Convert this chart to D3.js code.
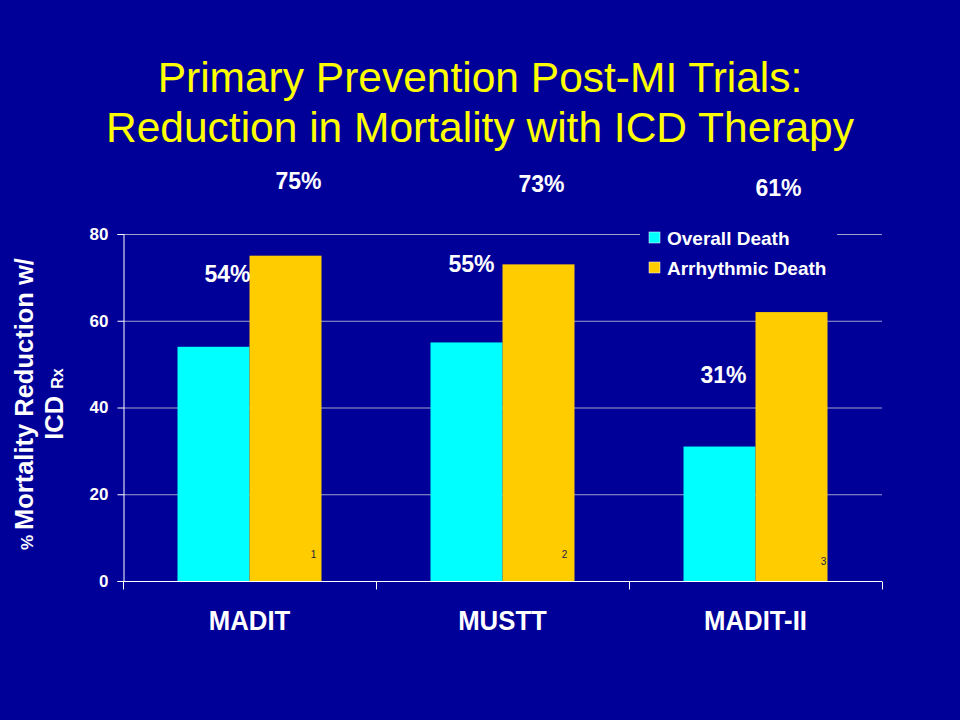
<!DOCTYPE html>
<html><head><meta charset="utf-8">
<script src="https://cdn.jsdelivr.net/npm/d3@7"></script>
<style>html,body{margin:0;padding:0;background:#000099;}svg{display:block;}</style>
</head><body>
<script>
const categories = ["MADIT", "MUSTT", "MADIT-II"];
const seriesNames = ["Overall Death", "Arrhythmic Death"];
const overallDeath = [54, 55, 31];
const arrhythmicDeath = [75, 73, 62];
const overallLabels = ["54%", "55%", "31%"];
const arrhythmicLabels = ["75%", "73%", "61%"];
const footnotes = ["1", "2", "3"];
const yTicks = [0, 20, 40, 60, 80];
const titleLines = ["Primary Prevention Post-MI Trials:", "Reduction in Mortality with ICD Therapy"];

const W = 960, H = 720;
const colors = ["#00FFFF", "#FFCC00"];
const font = "Arial, 'Liberation Sans', sans-serif";
const svg = d3.select("body").append("svg").attr("width", W).attr("height", H);
svg.append("rect").attr("width", W).attr("height", H).attr("fill", "#000099");

const plot = {left: 123, right: 882, top: 234, bottom: 581};
const y = d3.scaleLinear().domain([0, 80]).range([plot.bottom, plot.top]);
const x0 = d3.scaleBand().domain(categories).range([plot.left, plot.right]).padding(0);
const x1 = d3.scaleBand().domain(seriesNames).range([0, x0.bandwidth()]).paddingInner(0).paddingOuter(0.757);

// title
svg.append("g").selectAll("text").data(titleLines).join("text")
  .attr("x", 480).attr("y", (d, i) => 92 + i * 50)
  .attr("text-anchor", "middle").attr("fill", "#FFFF00")
  .attr("font-family", font).attr("font-size", 42.5).text(d => d);

// gridlines
svg.append("g").selectAll("line").data(yTicks.filter(t => t > 0)).join("line")
  .attr("x1", plot.left).attr("x2", plot.right)
  .attr("y1", d => y(d) + 0.5).attr("y2", d => y(d) + 0.5)
  .attr("stroke", "#A0A0CC").attr("stroke-width", 1);

// bars
const data = categories.map((c, i) => ({c, vals: [overallDeath[i], arrhythmicDeath[i]]}));
const groups = svg.append("g").selectAll("g").data(data).join("g")
  .attr("transform", d => `translate(${x0(d.c)},0)`);
groups.selectAll("rect").data(d => d.vals.map((v, j) => ({s: seriesNames[j], v, j}))).join("rect")
  .attr("x", d => x1(d.s)).attr("width", x1.bandwidth())
  .attr("y", d => y(d.v)).attr("height", d => y(0) - y(d.v))
  .attr("fill", d => colors[d.j]);

// axes
const yAxis = d3.axisLeft(y).tickValues(yTicks).tickSize(6).tickPadding(9);
const gy = svg.append("g").attr("transform", `translate(${plot.left + 0.5},0)`).call(yAxis);
gy.select(".domain").attr("stroke", "#fff");
gy.selectAll(".tick line").attr("stroke", "#fff");
gy.selectAll(".tick text").attr("fill", "#fff").attr("font-family", font)
  .attr("font-weight", "bold").attr("font-size", 17);

const gx = svg.append("g").attr("transform", `translate(0,${plot.bottom + 0.5})`);
gx.append("line").attr("x1", plot.left).attr("x2", plot.right).attr("stroke", "#fff");
const bounds = [...categories.map(c => x0(c)), plot.right];
gx.selectAll("line.tk").data(bounds).join("line").attr("class", "tk")
  .attr("x1", d => d + 0.5).attr("x2", d => d + 0.5).attr("y1", 0).attr("y2", 8).attr("stroke", "#fff");
gx.selectAll("text").data(categories).join("text")
  .attr("transform", d => `translate(${x0(d) + x0.bandwidth() / 2},48) scale(0.92,1)`)
  .attr("text-anchor", "middle").attr("fill", "#fff").attr("font-family", font)
  .attr("font-weight", "bold").attr("font-size", 28).text(d => d);

// y title
const yt = svg.append("g").attr("transform", "translate(0,404) rotate(-90)");
const t1 = yt.append("text").attr("x", 0).attr("y", 33).attr("text-anchor", "middle")
  .attr("fill", "#fff").attr("font-family", font).attr("font-weight", "bold").attr("font-size", 25.5);
t1.append("tspan").attr("font-size", 17).text("% ");
t1.append("tspan").text("Mortality Reduction w/");
const t2 = yt.append("text").attr("x", 0).attr("y", 63).attr("text-anchor", "middle")
  .attr("fill", "#fff").attr("font-family", font).attr("font-weight", "bold").attr("font-size", 25.5);
t2.append("tspan").text("ICD ");
t2.append("tspan").attr("font-size", 16).text("Rx");

// value labels
const arrOffsets = [[13, 189], [3, 192], [-13, 196]];
const ovOffsets = [[-22, 282], [-31, 272], [-32, 383]];
svg.append("g").selectAll("text").data(arrhythmicLabels).join("text")
  .attr("x", (d, i) => x0(categories[i]) + x1(seriesNames[1]) + x1.bandwidth() / 2 + arrOffsets[i][0])
  .attr("y", (d, i) => arrOffsets[i][1])
  .attr("text-anchor", "middle").attr("fill", "#fff").attr("font-family", font)
  .attr("font-weight", "bold").attr("font-size", 23).text(d => d);
svg.append("g").selectAll("text").data(overallLabels).join("text")
  .attr("x", (d, i) => x0(categories[i]) + x1(seriesNames[1]) + ovOffsets[i][0])
  .attr("y", (d, i) => ovOffsets[i][1])
  .attr("text-anchor", "middle").attr("fill", "#fff").attr("font-family", font)
  .attr("font-weight", "bold").attr("font-size", 23).text(d => d);

// footnotes
const fnOffsets = [[-8, 558], [-10, 558], [-4, 565]];
svg.append("g").selectAll("text").data(footnotes).join("text")
  .attr("x", (d, i) => x0(categories[i]) + x1(seriesNames[1]) + x1.bandwidth() + fnOffsets[i][0])
  .attr("y", (d, i) => fnOffsets[i][1])
  .attr("text-anchor", "middle").attr("fill", "#222244").attr("font-family", font)
  .attr("font-size", 10).text(d => d);

// legend
const lg = svg.append("g").attr("transform", "translate(640,224)");
lg.append("rect").attr("x", 0).attr("y", 0).attr("width", 197).attr("height", 56).attr("fill", "#000099");
const li = lg.selectAll("g").data(seriesNames).join("g").attr("transform", (d, i) => `translate(9,${8 + i * 30})`);
li.append("rect").attr("width", 11).attr("height", 11).attr("fill", (d, i) => colors[i])
  .attr("stroke", "#fff").attr("stroke-width", 0.5);
li.append("text").attr("x", 18).attr("y", 12.5).attr("fill", "#fff").attr("font-family", font)
  .attr("font-weight", "bold").attr("font-size", 19).text(d => d);
</script>
</body></html>
